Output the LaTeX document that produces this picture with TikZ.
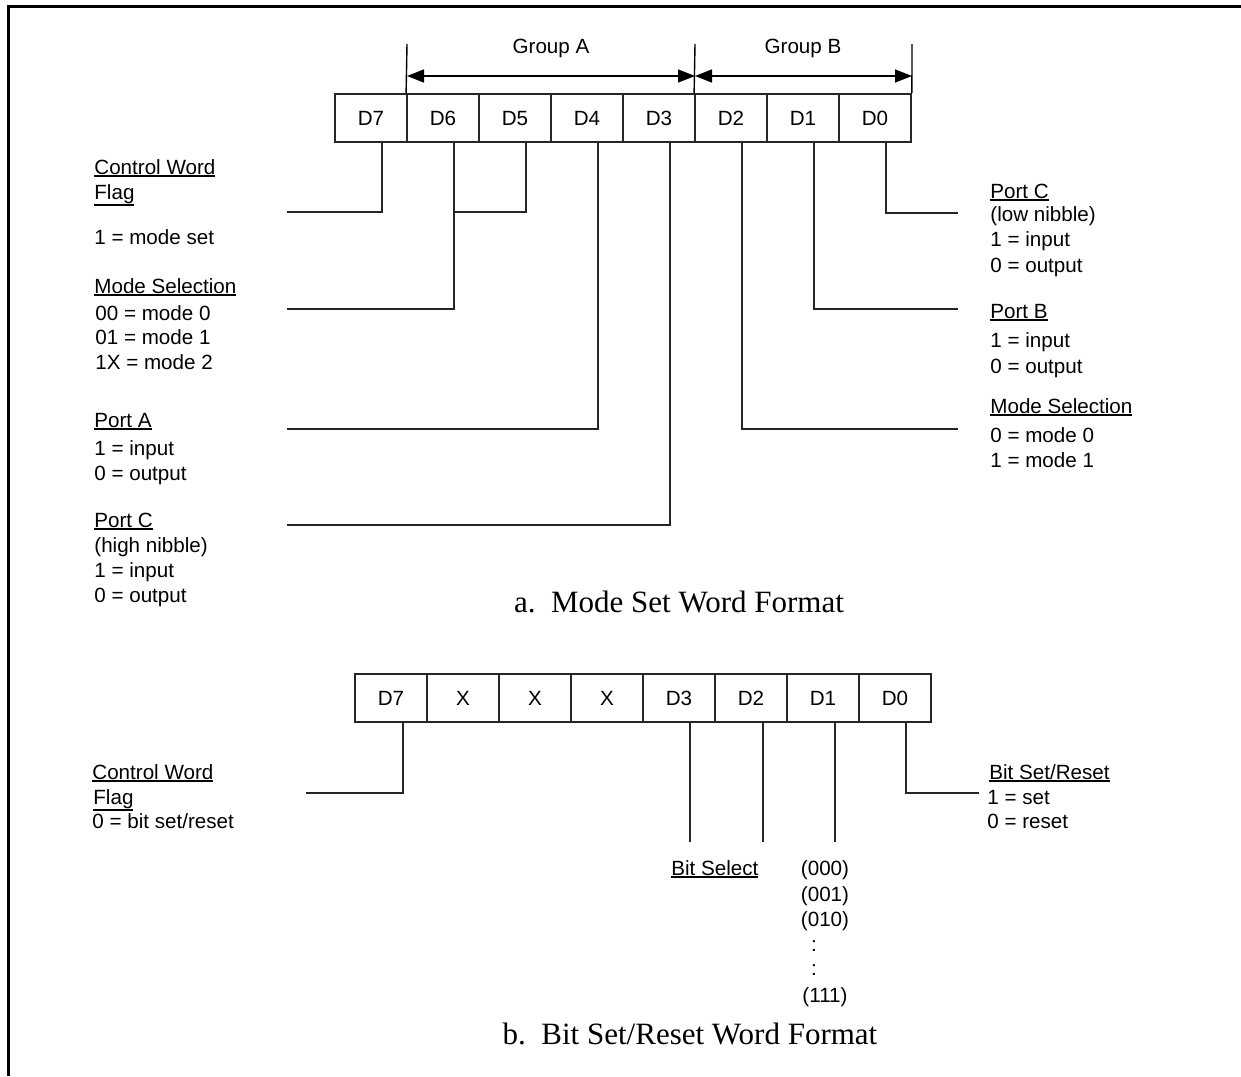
\documentclass[tikz,border=0pt]{standalone}
\usepackage{fontspec}
\setmainfont{Liberation Sans}
\newfontfamily\capfont{Liberation Serif}
\usetikzlibrary{arrows.meta}
\newcommand\lblfont{\fontsize{10.3}{12}\selectfont}
\newcommand\ulx[1]{\leavevmode\setbox0\hbox{#1}\rlap{\vrule height -\dimexpr\dp0+0.6pt\relax depth \dimexpr\dp0+1.6pt\relax width \wd0}\box0}
\begin{document}
\begin{tikzpicture}[x=0.5pt,y=-0.5pt,
  lbl/.style={anchor=base west, inner sep=0, font=\lblfont},
  cbase/.style={anchor=base, inner sep=0, font=\lblfont},
  cell/.style={draw=black!85, line width=0.9pt, minimum width=36pt, minimum height=24pt, inner sep=0, text height=7.4pt, text depth=0pt, font=\lblfont},
  wire/.style={line width=0.9pt, black!85},
  dimarrow/.style={line width=0.8pt, black, {Triangle[length=8.5pt,width=6.5pt]}-{Triangle[length=8.5pt,width=6.5pt]}},
  ticker/.style={line width=0.7pt, black},
  captxt/.style={anchor=base, inner sep=0, font=\capfont\fontsize{15.5}{18}\selectfont}]
\useasboundingbox (0,0) rectangle (1241,1076);
\draw[line width=1.5pt] (8,1076) -- (8,6) -- (1241,6);

% ---------- a. Mode set word ----------
\foreach \t [count=\i from 0] in {D7,D6,D5,D4,D3,D2,D1,D0}
  \node[cell] (a\i) at ({371+72*\i},118) {\t};

\coordinate (gA1) at (407,44);
\coordinate (gA2) at (695,44);
\coordinate (gB2) at (912,44);
\draw[ticker] (gA1) -- (a1.north west);
\draw[ticker] (gA2) -- (a5.north west);
\draw[ticker] (gB2) -- (a7.north east);
\coordinate (arA1) at (407,76);
\coordinate (arA2) at (695,76);
\coordinate (arB2) at (912,76);
\draw[dimarrow] (arA1) -- (arA2);
\draw[dimarrow] (arA2) -- (arB2);
\node[cbase] (grpA) at (551,53) {Group A};
\node[cbase] (grpB) at (803,53) {Group B};

\coordinate (l7) at (287,212);
\coordinate (j65) at (455,212);
\coordinate (l6) at (287,309);
\coordinate (l4) at (287,429);
\coordinate (l3) at (287,525);
\coordinate (r0) at (958,213);
\coordinate (r1) at (958,309);
\coordinate (r2) at (958,429);
\draw[wire] ([xshift=5.5pt]a0.south) |- (l7);
\draw[wire] ([xshift=5.5pt]a1.south) |- (l6);
\draw[wire] ([xshift=5.5pt]a2.south) |- (j65);
\draw[wire] ([xshift=5.5pt]a3.south) |- (l4);
\draw[wire] ([xshift=5.5pt]a4.south) |- (l3);
\draw[wire] ([xshift=5.5pt]a5.south) |- (r2);
\draw[wire] ([xshift=5.5pt]a6.south) |- (r1);
\draw[wire] ([xshift=5.5pt]a7.south) |- (r0);

% left labels
\node[lbl] (t1) at (94,174) {\ulx{Control Word}};
\node[lbl] (t2) at (94,199) {\ulx{Flag}};
\node[lbl] (t3) at (94,244) {1 = mode set};
\node[lbl] (t4) at (94,293) {\ulx{Mode Selection}};
\node[lbl] (t5) at (95,320) {00 = mode 0};
\node[lbl] (t6) at (95,344) {01 = mode 1};
\node[lbl] (t7) at (95,369) {1X = mode 2};
\node[lbl] (t8) at (94,427) {\ulx{Port A}};
\node[lbl] (t9) at (94,455) {1 = input};
\node[lbl] (t10) at (94,480) {0 = output};
\node[lbl] (t11) at (94,527) {\ulx{Port C}};
\node[lbl] (t12) at (94,552) {(high nibble)};
\node[lbl] (t13) at (94,577) {1 = input};
\node[lbl] (t14) at (94,602) {0 = output};

% right labels
\node[lbl] (s1) at (990,198) {\ulx{Port C}};
\node[lbl] (s2) at (990,221) {(low nibble)};
\node[lbl] (s3) at (990,246) {1 = input};
\node[lbl] (s4) at (990,272) {0 = output};
\node[lbl] (s5) at (990,318) {\ulx{Port B}};
\node[lbl] (s6) at (990,347) {1 = input};
\node[lbl] (s7) at (990,373) {0 = output};
\node[lbl] (s8) at (990,413) {\ulx{Mode Selection}};
\node[lbl] (s9) at (990,442) {0 = mode 0};
\node[lbl] (s10) at (990,467) {1 = mode 1};

\node[captxt] (capA) at (679,612) {a.\ \ Mode Set Word Format};

% ---------- b. Bit set/reset word ----------
\foreach \t [count=\i from 0] in {D7,X,X,X,D3,D2,D1,D0}
  \node[cell] (b\i) at ({391+72*\i},698) {\t};

\coordinate (bl7) at (306,793);
\coordinate (br0) at (979,793);
\coordinate (e4) at (690,842);
\coordinate (e5) at (763,842);
\coordinate (e6) at (835,842);
\draw[wire] ([xshift=6pt]b0.south) |- (bl7);
\draw[wire] ([xshift=5.5pt]b4.south) -- (e4);
\draw[wire] ([xshift=6pt]b5.south) -- (e5);
\draw[wire] ([xshift=6pt]b6.south) -- (e6);
\draw[wire] ([xshift=5.5pt]b7.south) |- (br0);

\node[lbl] (u1) at (92,779) {\ulx{Control Word}};
\node[lbl] (u2) at (93,804) {\ulx{Flag}};
\node[lbl] (u3) at (92,828) {0 = bit set/reset};

\node[lbl] (v1) at (989,779) {\ulx{Bit Set/Reset}};
\node[lbl] (v2) at (987,804) {1 = set};
\node[lbl] (v3) at (987,828) {0 = reset};

\node[lbl] (bs) at (671,875) {\ulx{Bit Select}};
\node[cbase] (c1) at (825,875) {(000)};
\node[cbase] (c2) at (825,901) {(001)};
\node[cbase] (c3) at (825,926) {(010)};
\node[cbase] (c4) at (814,951) {:};
\node[cbase] (c5) at (814,975) {:};
\node[cbase] (c6) at (825,1002) {(111)};

\node[captxt] (capB) at (690,1044) {b.\ \ Bit Set/Reset Word Format};
\end{tikzpicture}
\end{document}
